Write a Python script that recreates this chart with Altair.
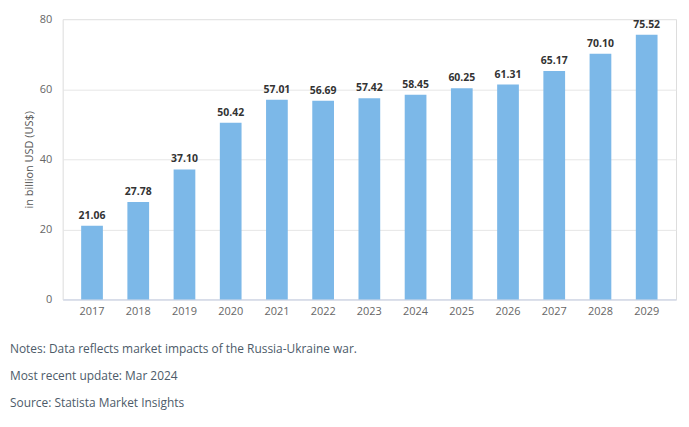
import altair as alt
import pandas as pd

years = ["2017", "2018", "2019", "2020", "2021", "2022", "2023", "2024", "2025", "2026", "2027", "2028", "2029"]
values = [21.06, 27.78, 37.10, 50.42, 57.01, 56.69, 57.42, 58.45, 60.25, 61.31, 65.17, 70.10, 75.52]
labels = [f"{v:.2f}" for v in values]
notes = [
    "Notes: Data reflects market impacts of the Russia-Ukraine war.",
    "Most recent update: Mar 2024",
    "Source: Statista Market Insights",
]

df = pd.DataFrame({"year": years, "value": values, "label": labels})

FONT = "Open Sans"

x = alt.X("year:N", sort=years, title=None,
          scale=alt.Scale(paddingInner=0.53, paddingOuter=0.4),
          axis=alt.Axis(labelAngle=0, ticks=False, domainColor="#ccd6eb", labelColor="#666666",
                        labelFont=FONT, labelFontSize=11, labelPadding=6, grid=False))
y = alt.Y("value:Q", title="in billion USD (US$)",
          scale=alt.Scale(domain=[0, 80]),
          axis=alt.Axis(values=[0, 20, 40, 60, 80], domain=False, ticks=False, gridColor="#e6e6e6",
                        labelColor="#666666", labelFont=FONT, labelFontSize=11, labelPadding=11,
                        titleFont=FONT, titleFontSize=11, titleFontWeight="normal", titleColor="#555555",
                        titlePadding=5))

bars = alt.Chart(df).mark_bar(color="#7cb8e8").encode(x=x, y=y)
text = alt.Chart(df).mark_text(baseline="bottom", dy=-5, font=FONT, fontSize=10.5,
                               fontWeight="bold", color="#333333").encode(
    x=alt.X("year:N", sort=years), y="value:Q", text="label:N")

chart = (bars + text).properties(
    width=617, height=282,
    padding={"left": 55, "top": 10, "right": 5, "bottom": 110},
    autosize=alt.AutoSizeParams(type="none"),
    title=alt.TitleParams(text=notes, orient="bottom", anchor="start", frame="group", dx=-53, offset=33,
                          font=FONT, fontSize=12, fontWeight="normal", color="#4d5b69",
                          lineHeight=27, baseline="middle"),
).configure_view(stroke=None).configure(background="white")

chart.save("out.html", embed_options={"renderer": "svg", "actions": False})
